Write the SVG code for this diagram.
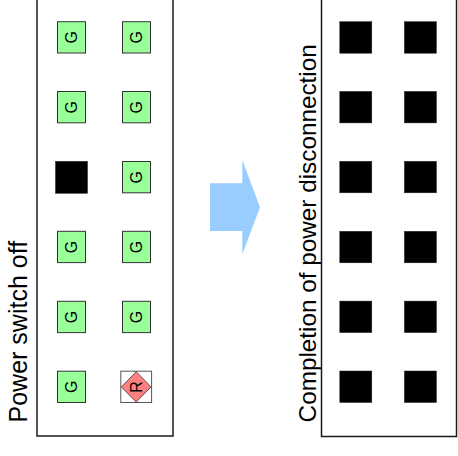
<svg xmlns="http://www.w3.org/2000/svg" width="458" height="456" viewBox="0 0 458 456">
<style>
.panel{fill:#ffffff;stroke:#1a1a1a;stroke-width:1.5}
.g{fill:#99ff99;stroke:#333333;stroke-width:1}
.blk{fill:#000000;stroke:#222222;stroke-width:0.5}
.gt{font-family:"Liberation Sans",Arial,sans-serif;fill:#000000;text-anchor:middle;font-size:16px}
.lbl{font-family:"Liberation Sans",Arial,sans-serif;fill:#000000;text-anchor:middle}
</style>
<rect width="458" height="456" fill="#ffffff"/>
<g id="panel-left">
<rect class="panel" x="37" y="-10" width="136" height="446"/>
</g>
<g id="panel-right">
<rect class="panel" x="321.5" y="-10" width="135" height="446.5"/>
</g>
<g id="label-left"><text class="lbl" font-size="25" transform="translate(27.3,331.7) rotate(-90)">Power switch off</text></g>
<g id="label-right"><text class="lbl" font-size="24.3" transform="translate(315.7,233.3) rotate(-90)">Completion of power disconnection</text></g>
<g id="L-r1c1"><rect class="g" x="57.5" y="21.7" width="28" height="31.3"/><text class="gt" transform="translate(77.2,37.3) rotate(-90)">G</text></g>
<g id="L-r1c2"><rect class="g" x="122.5" y="21.7" width="28" height="31.3"/><text class="gt" transform="translate(142.2,37.3) rotate(-90)">G</text></g>
<g id="L-r2c1"><rect class="g" x="57.5" y="91.5" width="28" height="31.3"/><text class="gt" transform="translate(77.2,107.2) rotate(-90)">G</text></g>
<g id="L-r2c2"><rect class="g" x="122.5" y="91.5" width="28" height="31.3"/><text class="gt" transform="translate(142.2,107.2) rotate(-90)">G</text></g>
<g id="L-r3c1"><rect class="blk" x="55.5" y="161.3" width="32" height="32"/></g>
<g id="L-r3c2"><rect class="g" x="122.5" y="161.5" width="28" height="31.3"/><text class="gt" transform="translate(142.2,177.2) rotate(-90)">G</text></g>
<g id="L-r4c1"><rect class="g" x="57.5" y="231.3" width="28" height="31.3"/><text class="gt" transform="translate(77.2,247) rotate(-90)">G</text></g>
<g id="L-r4c2"><rect class="g" x="122.5" y="231.3" width="28" height="31.3"/><text class="gt" transform="translate(142.2,247) rotate(-90)">G</text></g>
<g id="L-r5c1"><rect class="g" x="57.5" y="301.3" width="28" height="31.3"/><text class="gt" transform="translate(77.2,317) rotate(-90)">G</text></g>
<g id="L-r5c2"><rect class="g" x="122.5" y="301.3" width="28" height="31.3"/><text class="gt" transform="translate(142.2,317) rotate(-90)">G</text></g>
<g id="L-r6c1"><rect class="g" x="57.5" y="371.2" width="28" height="31.3"/><text class="gt" transform="translate(77.2,386.9) rotate(-90)">G</text></g>
<g id="L-r6c2"><rect x="120.8" y="371.2" width="30.8" height="31.3" fill="#ffffff" stroke="#555555" stroke-width="1"/><polygon points="136.2,371.7 151,386.9 136.2,402.1 121.4,386.9" fill="#ff8080" stroke="#333333" stroke-width="0.8"/><text class="gt" transform="translate(141.9,386.9) rotate(-90)">R</text></g>
<g id="R-r1c1"><rect class="blk" x="339.8" y="21.7" width="32" height="31.5"/></g>
<g id="R-r1c2"><rect class="blk" x="404.4" y="21.7" width="32" height="31.5"/></g>
<g id="R-r2c1"><rect class="blk" x="339.8" y="91.4" width="32" height="31.5"/></g>
<g id="R-r2c2"><rect class="blk" x="404.4" y="91.4" width="32" height="31.5"/></g>
<g id="R-r3c1"><rect class="blk" x="339.8" y="161.3" width="32" height="31.5"/></g>
<g id="R-r3c2"><rect class="blk" x="404.4" y="161.3" width="32" height="31.5"/></g>
<g id="R-r4c1"><rect class="blk" x="339.8" y="231.3" width="32" height="31.5"/></g>
<g id="R-r4c2"><rect class="blk" x="404.4" y="231.3" width="32" height="31.5"/></g>
<g id="R-r5c1"><rect class="blk" x="339.8" y="301.1" width="32" height="31.5"/></g>
<g id="R-r5c2"><rect class="blk" x="404.4" y="301.1" width="32" height="31.5"/></g>
<g id="R-r6c1"><rect class="blk" x="339.8" y="371" width="32" height="31.5"/></g>
<g id="R-r6c2"><rect class="blk" x="404.4" y="371" width="32" height="31.5"/></g>
<g id="connectors">
<polygon points="210,183.3 242.3,183.3 242.3,160 260,207.3 242.3,254.3 242.3,231 210,231" fill="#99ccff"/>
</g>
</svg>
